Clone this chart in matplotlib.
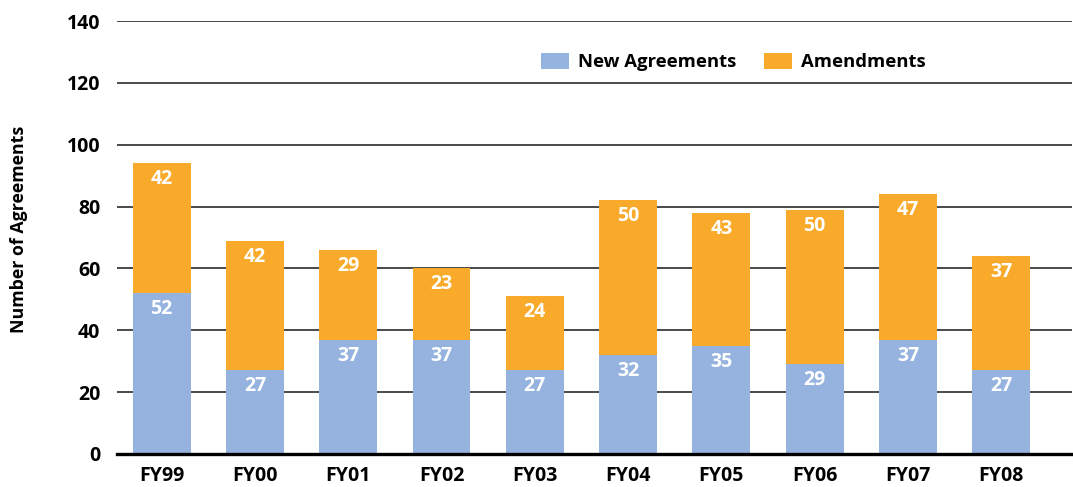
import numpy as np
import matplotlib
matplotlib.use('Agg')
import matplotlib.pyplot as plt

# data
years = ['FY99', 'FY00', 'FY01', 'FY02', 'FY03', 'FY04', 'FY05', 'FY06', 'FY07', 'FY08']
new_agreements = [52, 27, 37, 37, 27, 32, 35, 29, 37, 27]
amendments = [42, 42, 29, 23, 24, 50, 43, 50, 47, 37]
y_ticks = [0, 20, 40, 60, 80, 100, 120, 140]

blue = '#95B3DE'
orange = '#F9AA2A'

plt.rcParams['font.family'] = ['Open Sans', 'DejaVu Sans']
plt.rcParams['font.weight'] = 'bold'

fig = plt.figure(figsize=(10.73, 4.87), dpi=100)
ax = fig.add_axes([0.109, 0.0678, 0.890, 0.889])

x = np.arange(len(years))
w = 0.62
b1 = ax.bar(x, new_agreements, w, color=blue, label='New Agreements', zorder=3)
b2 = ax.bar(x, amendments, w, bottom=new_agreements, color=orange, label='Amendments', zorder=3)

# value labels just below the top of each segment
for bars, vals in ((b1, new_agreements), (b2, amendments)):
    for rect, v in zip(bars, vals):
        top = rect.get_y() + rect.get_height()
        ax.annotate(str(v), (rect.get_x() + rect.get_width() / 2, top),
                    xytext=(0, -11.5), textcoords='offset points',
                    ha='center', va='center', color='white',
                    fontsize=14, fontweight='bold', zorder=4)

ax.set_xlim(-0.479, 9.757)
ax.set_ylim(0, 140)
ax.set_yticks(y_ticks)
ax.set_xticks(x)
ax.set_xticklabels(years, fontsize=14, fontweight='bold')
ax.tick_params(axis='y', labelsize=14, length=0, pad=12)
ax.tick_params(axis='x', length=0, pad=9)
for lab in ax.get_yticklabels():
    lab.set_fontweight('bold')

ax.grid(axis='y', color='#2b2b2b', linewidth=1.2, zorder=0)
ax.set_axisbelow(True)
for s in ['top', 'right', 'left']:
    ax.spines[s].set_visible(False)
ax.spines['bottom'].set_linewidth(2.4)
ax.spines['bottom'].set_color('black')
ax.spines['bottom'].set_zorder(5)

fig.text(0.018, 0.528, 'Number of Agreements', rotation=90, ha='center', va='center',
         fontsize=12.8, fontweight='bold')

fig.legend(loc='center left', bbox_to_anchor=(0.504, 0.873), ncol=2, frameon=False,
           handlelength=1.5, handleheight=1.0, handletextpad=0.5,
           columnspacing=1.5, borderpad=0, borderaxespad=0,
           prop={'weight': 'bold', 'size': 13.3})

fig.savefig('out.png', dpi=100)
